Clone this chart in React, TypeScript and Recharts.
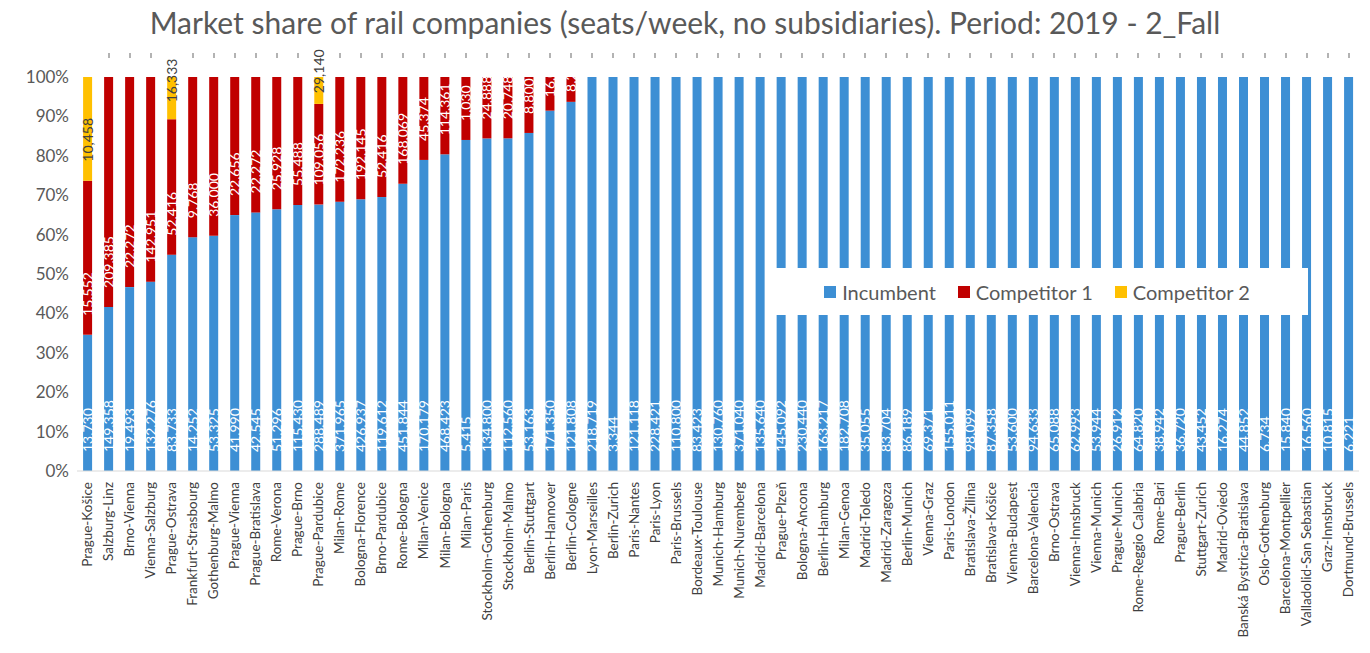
import { BarChart, Bar, XAxis, YAxis, Legend, LabelList } from 'recharts'

const routes = [
  'Prague-Košice', 'Salzburg-Linz', 'Brno-Vienna', 'Vienna-Salzburg', 'Prague-Ostrava',
  'Frankfurt-Strasbourg', 'Gothenburg-Malmo', 'Prague-Vienna', 'Prague-Bratislava', 'Rome-Verona',
  'Prague-Brno', 'Prague-Pardubice', 'Milan-Rome', 'Bologna-Florence', 'Brno-Pardubice',
  'Rome-Bologna', 'Milan-Venice', 'Milan-Bologna', 'Milan-Paris', 'Stockholm-Gothenburg',
  'Stockholm-Malmo', 'Berlin-Stuttgart', 'Berlin-Hannover', 'Berlin-Cologne', 'Lyon-Marseilles',
  'Berlin-Zurich', 'Paris-Nantes', 'Paris-Lyon', 'Paris-Brussels', 'Bordeaux-Toulouse',
  'Munich-Hamburg', 'Munich-Nuremberg', 'Madrid-Barcelona', 'Prague-Plzeň', 'Bologna-Ancona',
  'Berlin-Hamburg', 'Milan-Genoa', 'Madrid-Toledo', 'Madrid-Zaragoza', 'Berlin-Munich',
  'Vienna-Graz', 'Paris-London', 'Bratislava-Žilina', 'Bratislava-Košice', 'Vienna-Budapest',
  'Barcelona-Valencia', 'Brno-Ostrava', 'Vienna-Innsbruck', 'Vienna-Munich', 'Prague-Munich',
  'Rome-Reggio Calabria', 'Rome-Bari', 'Prague-Berlin', 'Stuttgart-Zurich', 'Madrid-Oviedo',
  'Banská Bystrica-Bratislava', 'Oslo-Gothenburg', 'Barcelona-Montpellier', 'Valladolid-San Sebastian',
  'Graz-Innsbruck', 'Dortmund-Brussels',
]

const incumbent = [
  13730, 149358, 19493, 132276, 83733, 14252, 53325, 41990, 42545, 51296,
  115430, 288489, 371965, 426937, 119612, 451844, 170179, 468423, 5415, 134800,
  112560, 53163, 171350, 121808, 218719, 3344, 121118, 228421, 110800, 83423,
  130760, 371040, 135640, 145092, 230440, 163217, 182708, 35055, 83704, 86189,
  69371, 155011, 98099, 87358, 53600, 94633, 65088, 62993, 53944, 26912,
  64820, 38942, 36720, 43452, 16274, 44852, 6734, 15840, 16560, 10815, 6221,
]

const competitor1 = [
  15552, 209385, 22272, 142951, 52416, 9768, 36000, 22656, 22272, 25928,
  55488, 109056, 172236, 192145, 52416, 168069, 45374, 114361, 1030, 24888,
  20748, 8800, 16000, 8200, 0, 0, 0, 0, 0, 0,
  0, 0, 0, 0, 0, 0, 0, 0, 0, 0,
  0, 0, 0, 0, 0, 0, 0, 0, 0, 0,
  0, 0, 0, 0, 0, 0, 0, 0, 0, 0, 0,
]

const competitor2 = [
  10458, 0, 0, 0, 16333, 0, 0, 0, 0, 0,
  0, 29140, 0, 0, 0, 0, 0, 0, 0, 0,
  0, 0, 0, 0, 0, 0, 0, 0, 0, 0,
  0, 0, 0, 0, 0, 0, 0, 0, 0, 0,
  0, 0, 0, 0, 0, 0, 0, 0, 0, 0,
  0, 0, 0, 0, 0, 0, 0, 0, 0, 0, 0,
]

const yTicks = [0, 0.1, 0.2, 0.3, 0.4, 0.5, 0.6, 0.7, 0.8, 0.9, 1]
const seriesOrder = ['Incumbent', 'Competitor 1', 'Competitor 2']

const data = routes.map((route, i) => ({
  route,
  incumbent: incumbent[i],
  competitor1: competitor1[i],
  competitor2: competitor2[i],
}))

const BLUE = '#3d8fd4'
const RED = '#c00000'
const YELLOW = '#ffc000'
const GREY = '#595959'

const fmt = (v: number) => v.toLocaleString('en-US')

// Excel-style "inside base" label, rotated to read upwards, clipped to its segment
function SegLabel({ x, y, width, height, value, color, id, clipTop }: any) {
  const cx = x + width / 2
  const base = y + height
  const by = base - Math.min(19, height * 0.4)
  const top = clipTop ? y : 0
  return (
    <g>
      <clipPath id={id}>
        <rect x={x - 10} y={top} width={width + 20} height={base - top} />
      </clipPath>
      <g clipPath={`url(#${id})`}>
        <text x={cx} y={by} transform={`rotate(-90, ${cx}, ${by})`} textAnchor="start" dy="0.36em"
          fill={color} fontSize={14}>{fmt(value)}</text>
      </g>
    </g>
  )
}

const makeLabel = (color: string, prefix: string, clipTop: boolean) => (p: any) =>
  p.value ? <SegLabel key={`${prefix}${p.index}`} {...p} value={p.value} color={color} id={`${prefix}${p.index}`} clipTop={clipTop} /> : null

// incumbent segment, plus the small mark above stacks whose competitor 2 label is empty
const IncShape = (p: any) => {
  const { x, y, width, height, fill, payload } = p
  if (x == null || y == null) return null
  const total = payload.incumbent + payload.competitor1 + payload.competitor2
  const stackTop = y + height - (height * total) / payload.incumbent
  const mx = Math.round(x + width / 2)
  return (
    <g>
      <rect x={x} y={y} width={width} height={height} fill={fill} />
      {!payload.competitor2 && (
        <rect x={mx - 0.75} y={Math.round(stackTop) - 24} width={1.5} height={5} fill="#9a9a9a" />
      )}
    </g>
  )
}

const RouteTick = ({ x, y, payload }: any) => {
  const ty = y + 3
  return (
    <text x={x} y={ty} transform={`rotate(-90, ${x}, ${ty})`} textAnchor="end" dy="0.35em"
      fill="#404040" fontSize={13.5}>{payload.value}</text>
  )
}

const LegendBox = ({ payload }: any) => {
  const items = [...(payload || [])].sort((a: any, b: any) => seriesOrder.indexOf(a.value) - seriesOrder.indexOf(b.value))
  return (
    <div style={{ display: 'flex', alignItems: 'center', justifyContent: 'center', height: 47, gap: 22 }}>
      {items.map((e: any) => (
        <span key={e.value} style={{ display: 'flex', alignItems: 'center', color: GREY, fontSize: 20 }}>
          <span style={{ width: 12, height: 12, background: e.color, marginRight: 6, display: 'inline-block' }} />
          {e.value}
        </span>
      ))}
    </div>
  )
}

export default function App() {
  return (
    <div style={{ position: 'absolute', left: 0, top: 0, width: 1370, height: 653, background: '#fff', fontFamily: 'Lato, sans-serif' }}>
      <div style={{ position: 'absolute', left: 0, top: 3, width: 1370, textAlign: 'center', fontSize: 30, color: GREY, lineHeight: '38px' }}>
        Market share of rail companies (seats/week, no subsidiaries). Period: 2019 - 2_Fall
      </div>
      <BarChart width={1370} height={653} data={data} stackOffset="expand" barCategoryGap="29%"
        margin={{ top: 77, right: 11, left: 0, bottom: 0 }}>
        <XAxis dataKey="route" interval={0} height={182} tick={<RouteTick />} tickLine={false}
          axisLine={{ stroke: '#d9d9d9' }} />
        <YAxis width={77} ticks={yTicks} domain={[0, 1]} tickFormatter={(v) => `${Math.round(v * 100)}%`}
          tick={{ fill: GREY, fontSize: 17 }} axisLine={false} tickLine={false} />
        <Legend verticalAlign="middle" align="center" layout="horizontal" content={<LegendBox />}
          wrapperStyle={{ left: 766, top: 268, width: 542, height: 47, background: '#fff' }} />
        <Bar dataKey="incumbent" name="Incumbent" stackId="a" fill={BLUE} shape={IncShape} isAnimationActive={false}>
          <LabelList dataKey="incumbent" content={makeLabel('#fff', 'ci', true)} />
        </Bar>
        <Bar dataKey="competitor1" name="Competitor 1" stackId="a" fill={RED} isAnimationActive={false}>
          <LabelList dataKey="competitor1" content={makeLabel('#fff', 'c1', true)} />
        </Bar>
        <Bar dataKey="competitor2" name="Competitor 2" stackId="a" fill={YELLOW} isAnimationActive={false}>
          <LabelList dataKey="competitor2" content={makeLabel('#404040', 'c2', false)} />
        </Bar>
      </BarChart>
    </div>
  )
}
